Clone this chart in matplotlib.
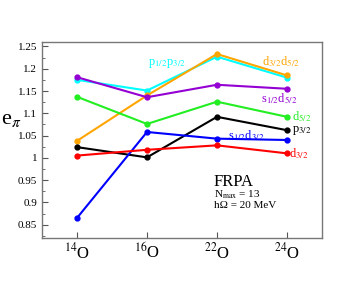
import matplotlib
matplotlib.use("Agg")
import matplotlib.pyplot as plt
from matplotlib.ticker import MultipleLocator

plt.rcParams['font.family'] = ['Liberation Serif', 'DejaVu Serif']
plt.rcParams['mathtext.fontset'] = 'stix'

nuclei = [r"$^{14}$O", r"$^{16}$O", r"$^{22}$O", r"$^{24}$O"]
x = [1, 2, 3, 4]

p12p32 = [1.175, 1.151, 1.227, 1.180]
d32d52 = [1.038, 1.140, 1.233, 1.185]
s12d52 = [1.181, 1.136, 1.164, 1.155]
d52 = [1.137, 1.076, 1.126, 1.092]
p32 = [1.024, 1.001, 1.092, 1.062]
s12d32 = [0.865, 1.058, 1.043, 1.040]
d32 = [1.005, 1.018, 1.028, 1.010]

series = [
    (p12p32, "cyan"),
    (d32d52, "orange"),
    (s12d52, "darkviolet"),
    (d52, "#22ee22"),
    (p32, "black"),
    (s12d32, "blue"),
    (d32, "red"),
]

fig = plt.figure(figsize=(3.63, 2.81), dpi=100)
ax = fig.add_axes([42/363, 1 - 238/281, 280/363, 196/281])

for vals, c in series:
    ax.plot(x, vals, color=c, lw=1.5, marker='o', ms=3.5)

ax.set_xlim(0.5, 4.5)
ax.set_ylim(0.82, 1.26)
ax.set_xticks(x)
ax.set_xticklabels(nuclei, fontsize=12)
ax.yaxis.set_minor_locator(MultipleLocator(0.025))
ax.set_yticks([0.85, 0.9, 0.95, 1.0, 1.05, 1.1, 1.15, 1.2, 1.25])
ax.set_yticklabels(["0.85", "0.9", "0.95", "1", "1.05", "1.1", "1.15", "1.2", "1.25"], fontsize=8)
ax.tick_params(axis='both', direction='in', length=4, color='#555555', width=0.8)
ax.tick_params(axis='y', which='minor', direction='in', length=2, color='#555555', width=0.6)
ax.tick_params(axis='x', pad=3)
for s in ax.spines.values():
    s.set_color('#777777')
    s.set_linewidth(1.0)

fig.text(1/363, 1 - 119/281, r"e$_{\pi}$", fontsize=16, ha='left', va='center')

def lab(px, py, txt, c, fs=9):
    fig.text(px/363, 1 - py/281, txt, color=c, fontsize=fs, ha='center', va='center')

lab(167, 63, r"p$_{1/2}$p$_{3/2}$", "cyan")
lab(281, 62, r"d$_{3/2}$d$_{5/2}$", "orange")
lab(279, 99, r"s$_{1/2}$d$_{5/2}$", "darkviolet")
lab(302, 117, r"d$_{5/2}$", "#22ee22")
lab(302, 131, r"p$_{3/2}$", "black")
lab(246, 136, r"s$_{1/2}$d$_{3/2}$", "blue")
lab(299, 154, r"d$_{3/2}$", "red")

fig.text(214/363, 1 - 182/281, "FRPA", fontsize=12, ha='left', va='center')
fig.text(214/363, 1 - 195/281, r"N$_{\rm max}$ = 13", fontsize=8, ha='left', va='center')
fig.text(214/363, 1 - 206/281, r"hΩ = 20 MeV", fontsize=8, ha='left', va='center')

fig.savefig("out.png", dpi=100)
